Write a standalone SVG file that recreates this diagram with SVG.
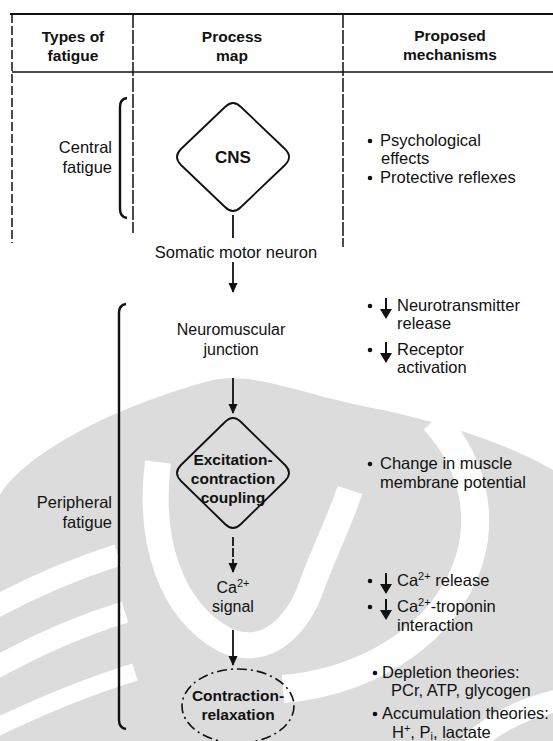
<svg xmlns="http://www.w3.org/2000/svg" width="553" height="741" viewBox="0 0 553 741">
<defs>
<style>
.t{font-family:"Liberation Sans",Arial,sans-serif;font-size:16.5px;fill:#111}
.p{font-family:"Liberation Sans",Arial,sans-serif;font-size:16px;fill:#111;text-anchor:middle}
.b{font-family:"Liberation Sans",Arial,sans-serif;font-size:15.5px;font-weight:bold;fill:#111;text-anchor:middle}
.r{text-anchor:end}
.ln{stroke:#111;stroke-width:1.5;fill:none}
.sh{stroke:#111;stroke-width:1.8;fill:none}
.br{stroke:#111;stroke-width:2.4;fill:none}
.ar{stroke:#111;stroke-width:1.8;fill:none}
.wm{fill:#dcdcdc}
.wb{stroke:#fff;fill:none}
</style>
<marker id="ah2" markerWidth="10" markerHeight="10" refX="9" refY="5" orient="auto" markerUnits="userSpaceOnUse" viewBox="0 0 10 10">
<path d="M0,0.5 L10,5 L0,9.5 Z" fill="#111"/>
</marker>
</defs>
<rect width="553" height="741" fill="#fff"/>
<g id="watermark">
<path class="wm" d="M0,495 C20,460 100,410 213,380 C260,372 300,395 383,410 C450,425 510,445 553,470 L553,741 L0,741 Z"/>
<path class="wb" d="M158,462 C148,540 170,610 225,640 C270,660 300,620 312,585 C325,550 340,520 350,490" stroke-width="26"/>
<path class="wb" d="M434,420 A215,170 0 0 1 283,689" stroke-width="28"/>
<path class="wb" d="M-5,607 Q55,575 118,555" stroke-width="22"/>
<path class="wb" d="M-5,668 Q60,632 125,612" stroke-width="22"/>
<path class="wb" d="M-5,728 Q70,692 135,672" stroke-width="18"/>
<path class="wb" d="M560,700 Q505,712 470,745" stroke-width="22"/>
</g>
<g id="table">
<line class="sh" x1="10" y1="14" x2="553" y2="14" stroke-width="2.2"/>
<line class="ln" x1="12" y1="72" x2="553" y2="72"/>
<line class="ln" x1="12" y1="14" x2="12" y2="243" stroke-dasharray="9 3"/>
<line class="ln" x1="133" y1="14" x2="133" y2="233" stroke-dasharray="14 2"/>
<line class="ln" x1="343" y1="14" x2="343" y2="247" stroke-dasharray="14 2"/>
<text class="b" x="73" y="42">Types of</text>
<text class="b" x="73" y="61">fatigue</text>
<text class="b" x="232" y="42">Process</text>
<text class="b" x="232" y="61">map</text>
<text class="b" x="450" y="41">Proposed</text>
<text class="b" x="450" y="60">mechanisms</text>
</g>
<g id="central-fatigue">
<path class="br" d="M127,98 Q120,99 120,107 L120,209 Q120,217 127,218"/>
<text class="t r" x="112" y="153">Central</text>
<text class="t r" x="112" y="173">fatigue</text>
</g>
<g id="peripheral-fatigue">
<path class="br" d="M126,304 Q119,305 119,313 L119,720 Q119,728 126,729"/>
<text class="t r" x="112" y="508">Peripheral</text>
<text class="t r" x="112" y="528">fatigue</text>
</g>
<g id="cns">
<path class="sh" d="M241,107 L285,149 Q293,157 285,165 L241,207 Q233,215 225,207 L181,165 Q173,157 181,149 L225,107 Q233,99 241,107 Z"/>
<text class="b" x="233" y="163" style="font-size:17px">CNS</text>
</g>
<g id="somatic-motor-neuron">
<text class="p" x="236" y="258" style="font-size:16.5px">Somatic motor neuron</text>
</g>
<g id="neuromuscular-junction">
<text class="p" x="231" y="335">Neuromuscular</text>
<text class="p" x="231" y="355">junction</text>
</g>
<g id="ec-coupling">
<path class="sh" d="M241,422 L285,465 Q293,473 285,481 L241,524 Q233,532 225,524 L181,481 Q173,473 181,465 L225,422 Q233,414 241,422 Z"/>
<text class="b" x="233" y="465">Excitation-</text>
<text class="b" x="233" y="484">contraction</text>
<text class="b" x="233" y="503">coupling</text>
</g>
<g id="ca-signal">
<text class="p" x="233" y="593">Ca<tspan dy="-6" font-size="11">2+</tspan></text>
<text class="p" x="233" y="612">signal</text>
</g>
<g id="contraction-relaxation">
<ellipse cx="238" cy="706" rx="56" ry="37" fill="none" stroke="#111" stroke-width="1.6" stroke-dasharray="10 4 2 4"/>
<text class="b" x="238" y="701">Contraction-</text>
<text class="b" x="238" y="720">relaxation</text>
</g>
<g id="connectors">
<line class="ar" x1="233" y1="215" x2="233" y2="238"/>
<line class="ar" x1="233" y1="262" x2="233" y2="292" marker-end="url(#ah2)"/>
<line class="ar" x1="233" y1="378" x2="233" y2="413" marker-end="url(#ah2)"/>
<line class="ar" x1="233" y1="537" x2="233" y2="572" marker-end="url(#ah2)" stroke-dasharray="9 2"/>
<line class="ar" x1="233" y1="630" x2="233" y2="665" marker-end="url(#ah2)"/>
</g>
<g id="mechanisms">
<g fill="#111">
<circle cx="370" cy="141" r="2.3"/>
<circle cx="370" cy="178" r="2.3"/>
<circle cx="370" cy="306" r="2.3"/>
<circle cx="370" cy="350" r="2.3"/>
<circle cx="370" cy="464" r="2.3"/>
<circle cx="370" cy="581" r="2.3"/>
<circle cx="370" cy="607" r="2.3"/>
<circle cx="375" cy="673" r="2.3"/>
<circle cx="375" cy="714" r="2.3"/>
<path d="M385,298 L387,298 L387,309 L392,309 L386,319 L380,309 L385,309 Z"/>
<path d="M385,342 L387,342 L387,353 L392,353 L386,363 L380,353 L385,353 Z"/>
<path d="M385,573 L387,573 L387,584 L392,584 L386,594 L380,584 L385,584 Z"/>
<path d="M385,599 L387,599 L387,610 L392,610 L386,620 L380,610 L385,610 Z"/>
</g>
<text class="t" x="380" y="146">Psychological</text>
<text class="t" x="381" y="164">effects</text>
<text class="t" x="380" y="183">Protective reflexes</text>
<text class="t" x="397" y="311">Neurotransmitter</text>
<text class="t" x="397" y="329">release</text>
<text class="t" x="397" y="355">Receptor</text>
<text class="t" x="397" y="373">activation</text>
<text class="t" x="380" y="469">Change in muscle</text>
<text class="t" x="380" y="488">membrane potential</text>
<text class="t" x="397" y="586">Ca<tspan dy="-6" font-size="11">2+</tspan><tspan dy="6"> release</tspan></text>
<text class="t" x="397" y="612">Ca<tspan dy="-6" font-size="11">2+</tspan><tspan dy="6">-troponin</tspan></text>
<text class="t" x="397" y="631">interaction</text>
<text class="t" x="382" y="678">Depletion theories:</text>
<text class="t" x="391" y="696">PCr, ATP, glycogen</text>
<text class="t" x="382" y="719">Accumulation theories:</text>
<text class="t" x="392" y="738">H<tspan dy="-6" font-size="11">+</tspan><tspan dy="6">, P</tspan><tspan dy="2" font-size="11">i</tspan><tspan dy="-2">, lactate</tspan></text>
</g>
</svg>
